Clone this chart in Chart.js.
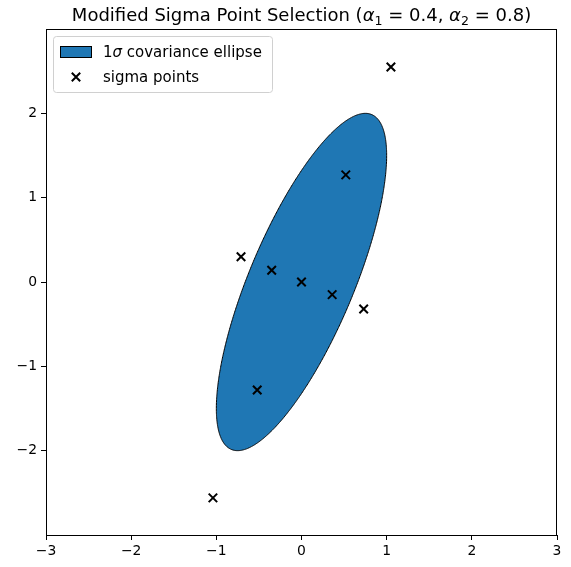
<!DOCTYPE html>
<html>
<head>
<meta charset="utf-8">
<script src="https://cdn.jsdelivr.net/npm/chart.js@4/dist/chart.umd.min.js"></script>
<style>
  html, body { margin: 0; padding: 0; background: #fff; }
  #wrap { width: 571px; height: 567px; position: relative; }
</style>
</head>
<body>
<div id="wrap"><canvas id="mychart"></canvas></div>
<script>
"use strict";

// sigma points
const sigmaX = [0, 0.52, -0.52, 0.36, -0.35, 1.05, -1.04, 0.73, -0.71];
const sigmaY = [0, 1.27, -1.28, -0.15, 0.14, 2.55, -2.56, -0.32, 0.30];

// 1-sigma ellipse: mean and covariance
const ellipseMean = [0, 0];
const ellipseCov = [[1.0, 1.5], [1.5, 4.0]];

const xTicks = [-3, -2, -1, 0, 1, 2, 3];
const yTicks = [-2, -1, 0, 1, 2];

const FONT = "'DejaVu Sans', sans-serif";
const BLUE = "#1f77b4";

// outline of the covariance ellipse via the Cholesky factor
function ellipseOutline(mean, cov, n) {
    const a = Math.sqrt(cov[0][0]);
    const b = cov[0][1] / a;
    const c = Math.sqrt(cov[1][1] - b * b);
    const pts = [];
    for (let i = 0; i <= n; i++) {
        const t = 2 * Math.PI * i / n;
        pts.push({x: mean[0] + a * Math.cos(t), y: mean[1] + b * Math.cos(t) + c * Math.sin(t)});
    }
    return pts;
}

const minus = v => String(v).replace("-", "\u2212");

// draws text pieces (normal / italic / subscript) in a row
function drawPieces(ctx, pieces, x, y, size, align) {
    const fontOf = p => (p.italic ? "italic " : "") + (p.sub ? size * 0.7 : size) + "px " + FONT;
    let total = 0;
    pieces.forEach(p => { ctx.font = fontOf(p); total += ctx.measureText(p.t).width; });
    let cx = align === "center" ? x - total / 2 : x;
    ctx.textAlign = "left";
    ctx.textBaseline = "alphabetic";
    pieces.forEach(p => {
        ctx.font = fontOf(p);
        ctx.fillText(p.t, cx, p.sub ? y + size * 0.22 : y);
        cx += ctx.measureText(p.t).width;
    });
}

const framePlugin = {
    id: "frame",
    afterDraw(chart) {
        const ctx = chart.ctx;
        const a = chart.chartArea;
        ctx.save();
        // spines
        ctx.strokeStyle = "#000";
        ctx.lineWidth = 1;
        ctx.strokeRect(Math.round(a.left) + 0.5, Math.round(a.top) + 0.5,
            Math.round(a.right - a.left) - 1, Math.round(a.bottom - a.top));

        // title
        ctx.fillStyle = "#000";
        drawPieces(ctx, [
            {t: "Modified Sigma Point Selection ("},
            {t: "\u03b1", italic: true}, {t: "1", sub: true}, {t: " = 0.4, "},
            {t: "\u03b1", italic: true}, {t: "2", sub: true}, {t: " = 0.8)"}
        ], (a.left + a.right) / 2, a.top - 8, 18, "center");

        // legend box
        const lx = a.left + 7, ly = a.top + 7, lw = 219, lh = 56;
        ctx.beginPath();
        ctx.roundRect(lx + 0.5, ly + 0.5, lw, lh, 3);
        ctx.fillStyle = "rgba(255,255,255,0.8)";
        ctx.fill();
        ctx.strokeStyle = "#d0d0d0";
        ctx.stroke();

        // patch handle
        ctx.fillStyle = BLUE;
        ctx.fillRect(lx + 7, ly + 10, 31, 11);
        ctx.strokeStyle = "#000";
        ctx.lineWidth = 1;
        ctx.strokeRect(lx + 7.5, ly + 10.5, 31, 11);

        // marker handle
        const mx = lx + 23, my = ly + 41, r = 4.2;
        ctx.lineWidth = 2;
        ctx.beginPath();
        ctx.moveTo(mx - r, my - r); ctx.lineTo(mx + r, my + r);
        ctx.moveTo(mx - r, my + r); ctx.lineTo(mx + r, my - r);
        ctx.stroke();

        ctx.fillStyle = "#000";
        drawPieces(ctx, [{t: "1"}, {t: "\u03c3", italic: true}, {t: " covariance ellipse"}],
            lx + 50, ly + 21, 15, "left");
        drawPieces(ctx, [{t: "sigma points"}], lx + 50, ly + 45.5, 15, "left");
        ctx.restore();
    }
};

new Chart(document.getElementById("mychart"), {
    type: "scatter",
    data: {
        datasets: [
            {
                label: "sigma points",
                data: sigmaX.map((x, i) => ({x: x, y: sigmaY[i]})),
                pointStyle: "crossRot",
                pointRadius: 6,
                pointBorderWidth: 2,
                borderColor: "#000",
                backgroundColor: "#000",
                order: 1
            },
            {
                label: "1\u03c3 covariance ellipse",
                data: ellipseOutline(ellipseMean, ellipseCov, 240),
                showLine: true,
                fill: "shape",
                tension: 0.01, // non-zero so Chart.js skips its fast path (it squashes the turning ends)
                pointRadius: 0,
                borderColor: "#000",
                borderWidth: 1,
                backgroundColor: BLUE,
                order: 2
            }
        ]
    },
    options: {
        responsive: true,
        maintainAspectRatio: false,
        animation: false,
        layout: {padding: {top: 29, right: 14, left: 0, bottom: 0}},
        plugins: {
            legend: {display: false},
            title: {display: false},
            tooltip: {enabled: false}
        },
        scales: {
            x: {
                type: "linear",
                min: -3,
                max: 3,
                afterBuildTicks: s => { s.ticks = xTicks.map(v => ({value: v})); },
                afterFit: s => { s.height = 32; },
                grid: {drawOnChartArea: false, drawTicks: true, tickLength: 5, tickColor: "#000"},
                border: {display: true, color: "#000", width: 1},
                ticks: {color: "#000", padding: 3, font: {family: FONT, size: 13.9}, callback: v => minus(v)}
            },
            y: {
                type: "linear",
                min: -3,
                max: 3,
                afterBuildTicks: s => { s.ticks = yTicks.map(v => ({value: v})); },
                afterFit: s => { s.width = 46; },
                grid: {drawOnChartArea: false, drawTicks: true, tickLength: 5, tickColor: "#000"},
                border: {display: true, color: "#000", width: 1},
                ticks: {color: "#000", padding: 4, font: {family: FONT, size: 13.9}, callback: v => minus(v)}
            }
        }
    },
    plugins: [framePlugin]
});
</script>
</body>
</html>
